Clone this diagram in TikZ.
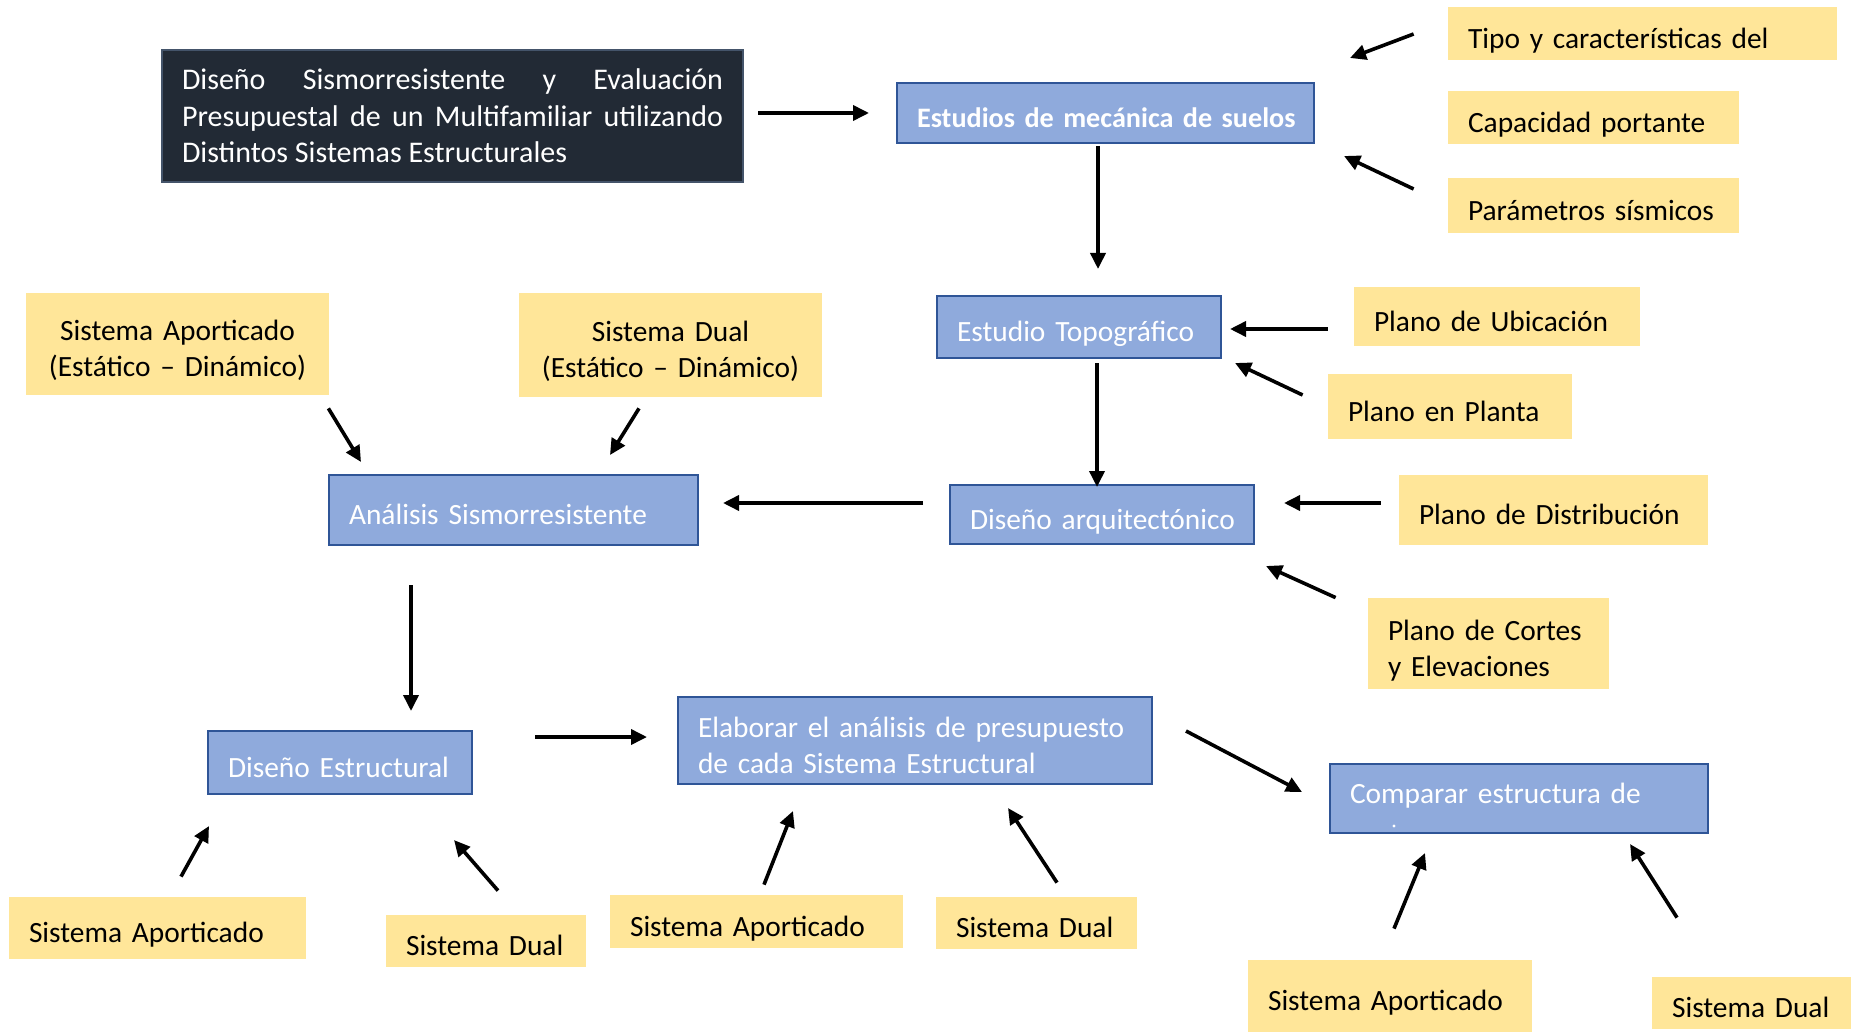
\documentclass[tikz,border=0pt]{standalone}
\usepackage{fontspec}
\setmainfont{Carlito}
\usetikzlibrary{arrows.meta,calc}
\definecolor{titlefill}{HTML}{222A35}
\definecolor{titleedge}{HTML}{44546A}
\definecolor{bluefill}{HTML}{8FAADC}
\definecolor{blueedge}{HTML}{2F5597}
\definecolor{yellowfill}{HTML}{FFE699}
\begin{document}
\begin{tikzpicture}[x=0.5pt,y=-0.5pt,
  base/.style={inner xsep=10pt, inner ysep=0pt, font=\fontsize{14.7}{18}\selectfont, align=left,
    execute at begin node={\rule{0pt}{18.8pt}},
    execute at end node={\rule[-4pt]{0pt}{0pt}}},
  bluebox/.style={base, fill=bluefill, draw=blueedge, line width=1pt, text=white},
  yellowbox/.style={base, fill=yellowfill, text=black},
  titlebox/.style={inner xsep=10pt, inner ysep=0pt, fill=titlefill, draw=titleedge, line width=1.2pt, text=white, align=justify, font=\fontsize{15}{18.3}\selectfont},
  arr/.style={-{Triangle[length=8pt,width=7.5pt]}, line width=1.8pt, black}]
\useasboundingbox (0,0) rectangle (1851,1032);
\fill[white] (0,0) rectangle (1851,1032);

% main chain
\node[titlebox, text width=270.5pt, minimum height=66pt] (title) at (452.5,116)
  {Diseño Sismorresistente y Evaluación\linebreak Presupuestal de un Multifamiliar utilizando\linebreak Distintos Sistemas Estructurales};
\node[bluebox, text width=188.5pt, minimum height=30pt, font=\fontsize{14.1}{18}\selectfont\bfseries] (mec) at (1105.5,113) {\mbox{Estudios de mecánica de suelos}};
\node[bluebox, text width=122pt, minimum height=31pt] (topo) at (1079,327) {\mbox{Estudio Topográfico}};
\node[bluebox, text width=132pt, minimum height=29.5pt] (arq) at (1102,514.5) {\mbox{Diseño arquitectónico}};
\node[bluebox, text width=164.5pt, minimum height=35pt] (anal) at (513.5,510) {\mbox{Análisis Sismorresistente}};
\node[bluebox, text width=112pt, minimum height=31.5pt] (estr) at (340,762.5) {\mbox{Diseño Estructural}};
\node[bluebox, text width=217pt, minimum height=43.5pt] (elab) at (915,740.5) {\mbox{Elaborar el análisis de presupuesto}\\\mbox{de cada Sistema Estructural}};
\node[bluebox, text width=169pt, minimum height=34.5pt, execute at end node={\rule[-13.4pt]{0pt}{0pt}}] (comp) at (1519,798.5) {\mbox{Comparar estructura de}};
\fill[white] (1394,826) circle (1.6);

% yellow inputs
\node[yellowbox, text width=174.5pt, minimum height=26.5pt] (tipo) at (1642.5,33.5) {\mbox{Tipo y características del}};
\node[yellowbox, text width=125.5pt, minimum height=26.5pt] (cap) at (1593.5,117.5) {\mbox{Capacidad portante}};
\node[yellowbox, text width=125.5pt, minimum height=27.5pt] (par) at (1593.5,205.5) {\mbox{Parámetros sísmicos}};
\node[yellowbox, text width=123pt, minimum height=29.5pt] (ubi) at (1497,316.5) {\mbox{Plano de Ubicación}};
\node[yellowbox, text width=102pt, minimum height=32.5pt] (planta) at (1450,406.5) {\mbox{Plano en Planta}};
\node[yellowbox, text width=134.5pt, minimum height=35pt] (dist) at (1553.5,510) {\mbox{Plano de Distribución}};
\node[yellowbox, text width=100.5pt, minimum height=45.5pt] (cortes) at (1488.5,643.5) {\mbox{Plano de Cortes}\\\mbox{y Elevaciones}};
\node[yellowbox, text width=131.5pt, minimum height=51pt, align=center, execute at begin node={\rule{0pt}{16.4pt}}] (sapt) at (177.5,344) {\mbox{Sistema Aporticado}\\\mbox{(Estático – Dinámico)}};
\node[yellowbox, text width=131.5pt, minimum height=52pt, align=center, execute at begin node={\rule{0pt}{16.4pt}}] (sdt) at (670.5,345) {\mbox{Sistema Dual}\\\mbox{(Estático – Dinámico)}};
\node[yellowbox, text width=128.5pt, minimum height=31pt] (sa1) at (157.5,928) {\mbox{Sistema Aporticado}};
\node[yellowbox, text width=80pt, minimum height=26pt] (sd1) at (486,941) {\mbox{Sistema Dual}};
\node[yellowbox, text width=126.5pt, minimum height=26.5pt] (sa2) at (756.5,921.5) {\mbox{Sistema Aporticado}};
\node[yellowbox, text width=80.5pt, minimum height=26pt] (sd2) at (1036.5,923) {\mbox{Sistema Dual}};
\node[yellowbox, text width=122pt, minimum height=36pt] (sa3) at (1390,996) {\mbox{Sistema Aporticado}};
\node[yellowbox, text width=79.5pt, minimum height=26pt] (sd3) at (1751.5,1003) {\mbox{Sistema Dual}};

% arrows
\draw[arr] ($(title.east)+(14,-3)$) -- ($(mec.west)+(-27,0)$);
\draw[arr] ($(mec.south)+(-7.5,2)$) -- ($(topo.north)+(19,-26)$);
\draw[arr] ($(tipo.west)+(-34,0.5)$) -- ($(mec.north east)+(35,-24)$);
\draw[arr] ($(par.west)+(-34,-16.5)$) -- ($(mec.south east)+(29,12)$);
\draw[arr] ($(topo.south)+(18,4)$) -- ($(arq.north)+(-5,3)$);
\draw[arr] ($(ubi.west)+(-26,12.5)$) -- ($(topo.east)+(8,2)$);
\draw[arr] ($(planta.west)+(-25,-11.5)$) -- ($(topo.south east)+(13,4)$);
\draw[arr] ($(arq.west)+(-26,-11.5)$) -- ($(anal.east)+(24,-7)$);
\draw[arr] ($(dist.west)+(-18,-7)$) -- ($(arq.east)+(29,-11.5)$);
\draw[arr] ($(cortes.north west)+(-32,0)$) -- ($(arq.south east)+(11,21)$);
\draw[arr] ($(sapt.south east)+(-1,13)$) -- ($(anal.north west)+(33,-12)$);
\draw[arr] ($(sdt.south)+(-31.5,11)$) -- ($(anal.north)+(96.5,-19)$);
\draw[arr] ($(anal.south)+(-102.5,39)$) -- ($(estr.north)+(71,-19)$);
\draw[arr] ($(estr.east)+(62,-25.5)$) -- ($(elab.west)+(-30,-3.5)$);
\draw[arr] ($(elab.east)+(33,-9.5)$) -- ($(comp.west)+(-27,-6.5)$);
\draw[arr] ($(sa1.north)+(23.5,-20)$) -- ($(estr.south west)+(2,31)$);
\draw[arr] ($(sd1.north)+(12,-24)$) -- ($(estr.south)+(114,45)$);
\draw[arr] ($(sa2.north)+(7.5,-10)$) -- ($(elab.south)+(-122,26)$);
\draw[arr] ($(sd2.north)+(20.5,-14)$) -- ($(elab.south east)+(-145,23)$);
\draw[arr] ($(sa3.north)+(4,-31)$) -- ($(comp.south)+(-94,19)$);
\draw[arr] ($(sd3.north)+(-74.5,-59)$) -- ($(comp.south east)+(-79,10)$);
\end{tikzpicture}
\end{document}
